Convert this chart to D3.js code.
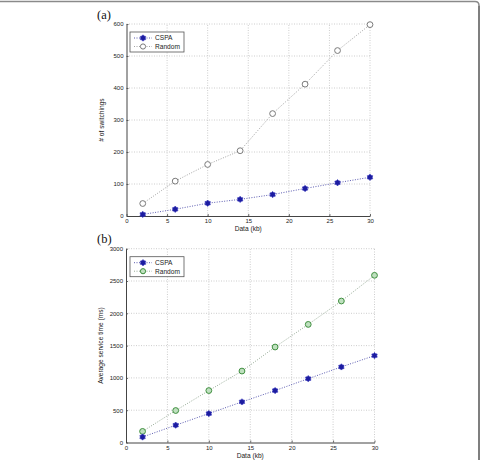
<!DOCTYPE html>
<html><head><meta charset="utf-8">
<script src="https://cdn.jsdelivr.net/npm/d3@7/dist/d3.min.js"></script>
<style>
html,body{margin:0;padding:0;background:#fff;}
svg{display:block;}
</style></head><body>
<svg id="c" width="483" height="460" font-family='"Liberation Sans",Arial,sans-serif'></svg>
<script>
const xValues = [2, 6, 10, 14, 18, 22, 26, 30];
const xTicks = [0, 5, 10, 15, 20, 25, 30];
const seriesNames = ["CSPA", "Random"];

const switchCSPA = [5, 21, 40, 52, 67, 86, 104, 121];
const switchRandom = [39, 109, 161, 204, 320, 412, 517, 598];
const switchTicks = [0, 100, 200, 300, 400, 500, 600];

const timeCSPA = [85, 268, 448, 629, 804, 988, 1170, 1345];
const timeRandom = [172, 495, 804, 1106, 1478, 1828, 2190, 2588];
const timeTicks = [0, 500, 1000, 1500, 2000, 2500, 3000];

const svg = d3.select("#c");

// figure frame (cropped)
svg.append("path").attr("d","M0,1.5 L475,1.5 Q479,1.5 479,5.5")
  .attr("fill","none").attr("stroke","#8a8a8a").attr("stroke-width",1.5);
svg.append("path").attr("d","M479,5.5 L479,460").attr("fill","none").attr("stroke","#555").attr("stroke-width",1.5);

const hexagram = {
  draw(ctx, size) {
    const R = Math.sqrt(size) * 0.6, r = R * 0.72;
    for (let i = 0; i < 12; i++) {
      const a = -Math.PI/2 + i * Math.PI / 6;
      const rr = i % 2 === 0 ? R : r;
      const px = rr * Math.cos(a), py = rr * Math.sin(a);
      if (i === 0) ctx.moveTo(px, py); else ctx.lineTo(px, py);
    }
    ctx.closePath();
  }
};

function panel(cfg) {
  const g = svg.append("g");
  const x = d3.scaleLinear().domain([0, 30]).range([cfg.x0, cfg.x1]);
  const y = d3.scaleLinear().domain([0, cfg.ymax]).range([cfg.y0, cfg.y1]);

  // grid
  g.selectAll(".gx").data(xTicks.filter(d => d > 0)).enter().append("line")
    .attr("x1", d => x(d)).attr("x2", d => x(d)).attr("y1", cfg.y0).attr("y2", cfg.y1)
    .attr("stroke", "#b8b8b8").attr("stroke-width", 0.7).attr("stroke-dasharray", "1,1.5");
  g.selectAll(".gy").data(cfg.yTicks.filter(d => d > 0)).enter().append("line")
    .attr("x1", cfg.x0).attr("x2", cfg.x1).attr("y1", d => y(d)).attr("y2", d => y(d))
    .attr("stroke", "#b8b8b8").attr("stroke-width", 0.7).attr("stroke-dasharray", "1,1.5");

  // axes
  const ax = g.append("g").attr("transform", `translate(0,${cfg.y0})`)
    .call(d3.axisBottom(x).tickValues(xTicks).tickFormat(d3.format("d")).tickSize(-2).tickPadding(4).tickSizeOuter(0));
  const ay = g.append("g").attr("transform", `translate(${cfg.x0},0)`)
    .call(d3.axisLeft(y).tickValues(cfg.yTicks).tickFormat(d3.format("d")).tickSize(-2).tickPadding(3).tickSizeOuter(0));
  [ax, ay].forEach(a => {
    a.attr("font-family", '"Liberation Sans",Arial,sans-serif');
    a.select(".domain").attr("stroke", "#444").attr("stroke-width", 1);
    a.selectAll(".tick line").attr("stroke", "#444").attr("stroke-width", 0.8);
    a.selectAll(".tick text").attr("font-size", 6).attr("fill", "#222");
  });
  ax.selectAll(".tick text").attr("dy", "0.55em");

  // labels
  g.append("text").attr("x", (cfg.x0 + cfg.x1) / 2).attr("y", cfg.y0 + 15)
    .attr("text-anchor", "middle").attr("font-size", 6.6).attr("fill", "#222").text("Data (kb)");
  g.append("text").attr("transform", `translate(${cfg.x0 - 23},${(cfg.y0 + cfg.y1) / 2}) rotate(-90)`)
    .attr("text-anchor", "middle").attr("font-size", 6.6).attr("fill", "#222").text(cfg.ylabel);
  g.append("text").attr("x", 97).attr("y", cfg.tagY)
    .style("font-family", '"Liberation Serif","Times New Roman",serif')
    .attr("font-size", 12.5).attr("fill", "#111").text(cfg.tag);

  const line = d3.line().x((d, i) => x(xValues[i])).y(d => y(d));
  // lines
  g.append("path").datum(cfg.rand).attr("d", line).attr("fill", "none")
    .attr("stroke", cfg.randLine).attr("stroke-width", 0.9).attr("stroke-dasharray", "1,1.5");
  g.append("path").datum(cfg.cspa).attr("d", line).attr("fill", "none")
    .attr("stroke", "#4a4aa8").attr("stroke-width", 0.9).attr("stroke-dasharray", "1,1.5");

  // markers
  g.selectAll(".mr").data(cfg.rand).enter().append("circle")
    .attr("cx", (d, i) => x(xValues[i])).attr("cy", d => y(d)).attr("r", 2.9)
    .attr("fill", cfg.randFill).attr("stroke", cfg.randStroke).attr("stroke-width", 1);
  const sym = d3.symbol().type(hexagram).size(28);
  g.selectAll(".mc").data(cfg.cspa).enter().append("path")
    .attr("transform", (d, i) => `translate(${x(xValues[i])},${y(d)})`)
    .attr("d", sym).attr("fill", "#1c1ca0").attr("stroke", "#3a3ac0").attr("stroke-width", 0.6);

  // legend
  const lx = 130, ly = cfg.y1 + 8;
  g.append("rect").attr("x", lx).attr("y", ly).attr("width", 54).attr("height", 20)
    .attr("fill", "#fff").attr("stroke", "#555").attr("stroke-width", 0.8);
  const rows = [ly + 6, ly + 14.5];
  seriesNames.forEach((name, k) => {
    const yy = rows[k];
    g.append("line").attr("x1", lx + 4).attr("x2", lx + 22).attr("y1", yy).attr("y2", yy)
      .attr("stroke", k === 0 ? "#4a4aa8" : cfg.randLine).attr("stroke-width", 0.9).attr("stroke-dasharray", "1,1.5");
    if (k === 0) {
      g.append("path").attr("transform", `translate(${lx + 13},${yy})`).attr("d", sym)
        .attr("fill", "#1c1ca0").attr("stroke", "#3a3ac0").attr("stroke-width", 0.6);
    } else {
      g.append("circle").attr("cx", lx + 13).attr("cy", yy).attr("r", 2.6)
        .attr("fill", cfg.randFill).attr("stroke", cfg.randStroke).attr("stroke-width", 1);
    }
    g.append("text").attr("x", lx + 25).attr("y", yy + 2.3).attr("font-size", 6.6).attr("fill", "#222").text(name);
  });
}

panel({x0: 126.5, x1: 370, y0: 216, y1: 24, ymax: 600, yTicks: switchTicks,
  cspa: switchCSPA, rand: switchRandom, ylabel: "# of switchings", tag: "(a)", tagY: 19,
  randLine: "#9a9a9a", randFill: "#fff", randStroke: "#7a7a7a"});
panel({x0: 126, x1: 374.5, y0: 442.5, y1: 248.7, ymax: 3000, yTicks: timeTicks,
  cspa: timeCSPA, rand: timeRandom, ylabel: "Average service time (ms)", tag: "(b)", tagY: 243,
  randLine: "#8aa08a", randFill: "#bfe0bf", randStroke: "#3f8f3f"});
</script>
</body></html>
